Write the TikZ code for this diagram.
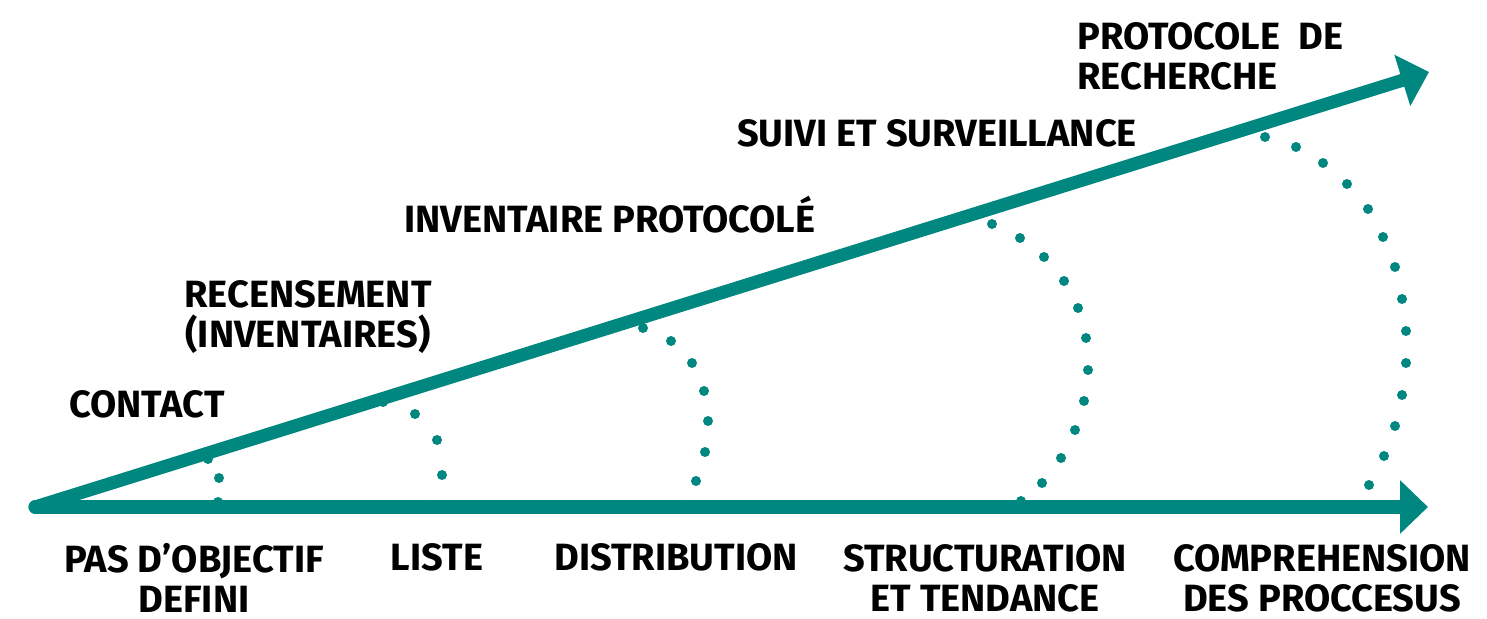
\documentclass[tikz,border=0pt]{standalone}
\usepackage{fontspec}
\setmainfont{Fira Sans}
\usetikzlibrary{arrows.meta}
\definecolor{sciteal}{RGB}{0,135,127}
\begin{document}
\begin{tikzpicture}[x=0.5pt, y=-0.5pt,
    axis/.style={sciteal, line width=6.5pt, line cap=round, -{Triangle[length=14pt,width=26pt]}},
    dot/.style={fill=sciteal},
    lab/.style={inner sep=0pt, font=\fontsize{19}{20}\selectfont\bfseries, align=center}]
    \useasboundingbox (0,0) rectangle (1487,619);

    % Dotted arcs between the two axes
    \foreach \p in {(208,459),(219,478),(218,502),
                    (383,402),(415,414),(437,440),(442,475),(430,505),
                    (643,328),(671,341),(692,363),(704,391),(708,421),(705,452),(696,481),(681,505),
                    (992,224),(1020,238),(1044,257),(1064,281),(1078,308),(1086,338),
                    (1088,370),(1084,401),(1075,430),(1061,458),(1042,483),(1021,501),
                    (1265,137),(1296,147),(1323,163),(1347,184),(1368,209),(1383,237),(1395,267),
                    (1402,299),(1406,331),(1406,363),(1402,395),(1395,426),(1384,456),(1369,485)}
        \fill[dot] \p circle[radius=5];

    % Draw the two axes
    \coordinate (origin) at (35,507);
    \coordinate (xend) at (1428,507);
    \coordinate (yend) at (1429,72);
    \draw[axis] (origin) -- (xend);
    \draw[axis] (origin) -- (yend);

    % Labels under the horizontal axis
    \node[lab] (pas) at (194,578) {PAS D'OBJECTIF\\DEFINI};
    \node[lab] (liste) at (437,557) {LISTE};
    \node[lab] (distrib) at (676,557) {DISTRIBUTION};
    \node[lab] (struct) at (985,578) {STRUCTURATION\\ET TENDANCE};
    \node[lab] (compr) at (1322,578) {COMPREHENSION\\DES PROCCESUS};

    % Labels above the oblique axis
    \node[lab] (contact) at (147,404) {CONTACT};
    \node[lab] (recens) at (308,317) {RECENSEMENT\\(INVENTAIRES)};
    \node[lab] (invent) at (610,215) {INVENTAIRE PROTOCOLÉ};
    \node[lab] (suivi) at (937,133) {SUIVI ET SURVEILLANCE};
    \node[lab, align=left, anchor=north west] (proto) at (1077,22)
        {\makebox[133pt][s]{PROTOCOLE\hfill DE}\\RECHERCHE};
\end{tikzpicture}
\end{document}
